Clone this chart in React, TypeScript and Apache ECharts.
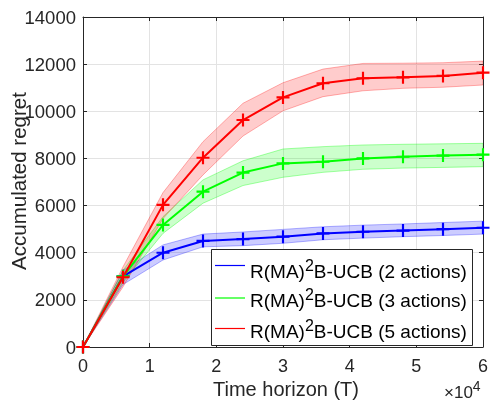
import React, { useEffect, useRef } from "react";
import * as echarts from "echarts";

const xs = [0, 6000, 12000, 18000, 24000, 30000, 36000, 42000, 48000, 54000, 60000];
const blue = [0, 3000, 4000, 4500, 4580, 4680, 4820, 4890, 4940, 5000, 5060];
const blueLo = [0, 2650, 3690, 4250, 4300, 4400, 4550, 4620, 4680, 4730, 4790];
const blueHi = [0, 3250, 4330, 4790, 4880, 4990, 5100, 5170, 5220, 5280, 5340];
const green = [0, 3000, 5180, 6590, 7400, 7790, 7860, 8000, 8070, 8120, 8160];
const greenLo = [0, 2750, 4820, 6100, 6850, 7200, 7410, 7540, 7590, 7620, 7650];
const greenHi = [0, 3250, 5530, 7090, 7900, 8400, 8500, 8570, 8600, 8620, 8640];
const red = [0, 2960, 6030, 8030, 9630, 10590, 11190, 11400, 11440, 11500, 11640];
const redLo = [0, 2550, 5450, 7300, 8950, 10020, 10620, 10870, 10975, 11020, 11115];
const redHi = [0, 3400, 6550, 8710, 10340, 11210, 11790, 12030, 12040, 12060, 12130];
const actions = ["2 actions", "3 actions", "5 actions"];
const colors = ["#0000ff", "#00ff00", "#ff0000"];
const fills = ["rgba(0,0,255,0.2)", "rgba(0,255,0,0.2)", "rgba(255,0,0,0.2)"];
const edges = ["rgba(0,0,255,0.3)", "rgba(0,255,0,0.35)", "rgba(255,0,0,0.3)"];

const FONT = "Liberation Sans, Arial, Helvetica, sans-serif";
const TXT = "#262626";
const PLUS = "path://M5,0H7V5H12V7H7V12H5V7H0V5H5Z";

export default function App() {
  const ref = useRef<HTMLDivElement>(null);
  useEffect(() => {
    const chart = echarts.init(ref.current!, null, { renderer: "svg" });
    const means = [blue, green, red];
    const los = [blueLo, greenLo, redLo];
    const his = [blueHi, greenHi, redHi];
    const seriesNames = actions.map((n) => `R(MA)2B-UCB (${n})`);
    const series: any[] = [];
    for (let i = 0; i < 3; i++) {
      const lo = los[i];
      const hi = his[i];
      series.push({
        type: "custom",
        name: "band" + i,
        silent: true,
        clip: true,
        data: xs.map((x, k) => [x, lo[k], hi[k]]),
        encode: { x: 0, y: [1, 2] },
        renderItem: (params: any, api: any) => {
          if (params.dataIndex !== 0) return null;
          const pts: number[][] = [];
          for (let k = 0; k < xs.length; k++) pts.push(api.coord([xs[k], hi[k]]));
          for (let k = xs.length - 1; k >= 0; k--) pts.push(api.coord([xs[k], lo[k]]));
          return {
            type: "polygon",
            shape: { points: pts },
            style: { fill: fills[i], stroke: edges[i], lineWidth: 1 },
          };
        },
      });
    }
    for (let i = 0; i < 3; i++) {
      series.push({
        type: "line",
        name: seriesNames[i],
        color: colors[i],
        data: xs.map((x, k) => [x, means[i][k]]),
        symbol: PLUS,
        symbolSize: 13,
        showAllSymbol: true,
        lineStyle: { color: colors[i], width: 2 },
        itemStyle: { color: colors[i] },
      });
    }

    // legend drawn as graphic (MATLAB-style box with superscript)
    const legendTop = 249.5;
    const rowLine = [265.5, 298, 328.5];
    const rowText = [271, 300.5, 331];
    const legendEls: any[] = [
      {
        type: "rect",
        z: 100,
        shape: { x: 211.5, y: legendTop, width: 261, height: 96 },
        style: { fill: "#fff", stroke: TXT, lineWidth: 1 },
      },
    ];
    for (let i = 0; i < 3; i++) {
      legendEls.push({
        type: "line",
        z: 101,
        shape: { x1: 215, y1: rowLine[i], x2: 245, y2: rowLine[i] },
        style: { stroke: colors[i], lineWidth: 1.2 },
      });
      legendEls.push({
        type: "text",
        z: 101,
        x: 250,
        y: rowText[i],
        style: {
          text: `{a|R(MA)}{s|2}{a|B-UCB (${actions[i]})}`,
          verticalAlign: "middle",
          rich: {
            a: { fontFamily: FONT, fontSize: 19, fill: "#000", lineHeight: 28 },
            s: { fontFamily: FONT, fontSize: 16, fill: "#000", lineHeight: 13, verticalAlign: "top" },
          },
        },
      });
    }

    chart.setOption({
      animation: false,
      grid: { left: 83, top: 17, width: 406, height: 330 },
      xAxis: [
        {
          type: "value",
          min: 0,
          max: 60000,
          interval: 10000,
          axisLine: { show: true, lineStyle: { color: TXT, width: 1 } },
          axisTick: { show: true, inside: true, length: 4, lineStyle: { color: TXT } },
          axisLabel: {
            formatter: (v: number) => String(v / 10000),
            fontSize: 18,
            fontFamily: FONT,
            color: TXT,
            margin: 10,
          },
          splitLine: { show: true, lineStyle: { color: "#e3e3e3", width: 1 } },
        },
        {
          type: "value",
          position: "top",
          min: 0,
          max: 60000,
          interval: 10000,
          axisLine: { show: true, onZero: false, lineStyle: { color: TXT, width: 1 } },
          axisTick: { show: true, inside: true, length: 4, lineStyle: { color: TXT } },
          axisLabel: { show: false },
          splitLine: { show: false },
        },
      ],
      yAxis: [
        {
          type: "value",
          min: 0,
          max: 14000,
          interval: 2000,
          axisLine: { show: true, lineStyle: { color: TXT, width: 1 } },
          axisTick: { show: true, inside: true, length: 4, lineStyle: { color: TXT } },
          axisLabel: {
            formatter: (v: number) => String(v),
            fontSize: 18.5,
            fontFamily: FONT,
            color: TXT,
            margin: 7,
            padding: [4, 0, 0, 0],
          },
          splitLine: { show: true, lineStyle: { color: "#e3e3e3", width: 1 } },
        },
        {
          type: "value",
          position: "right",
          min: 0,
          max: 14000,
          interval: 2000,
          axisLine: { show: true, onZero: false, lineStyle: { color: TXT, width: 1 } },
          axisTick: { show: true, inside: true, length: 4, lineStyle: { color: TXT } },
          axisLabel: { show: false },
          splitLine: { show: false },
        },
      ],
      graphic: [
        ...legendEls,
        {
          type: "text",
          x: 286,
          y: 389,
          style: {
            text: "Time horizon (T)",
            font: `20px ${FONT}`,
            fill: TXT,
            align: "center",
            verticalAlign: "middle",
          },
        },
        {
          type: "text",
          x: 18,
          y: 181,
          rotation: Math.PI / 2,
          style: {
            text: "Accumulated regret",
            font: `20.5px ${FONT}`,
            fill: TXT,
            align: "center",
            verticalAlign: "middle",
          },
        },
        {
          type: "text",
          x: 444,
          y: 392,
          style: {
            text: "{a|×10}{s|4}",
            fill: TXT,
            verticalAlign: "middle",
            rich: {
              a: { fontFamily: FONT, fontSize: 17, fill: TXT, lineHeight: 26 },
              s: { fontFamily: FONT, fontSize: 14, fill: TXT, lineHeight: 12, verticalAlign: "top" },
            },
          },
        },
      ],
      series,
    });
    return () => chart.dispose();
  }, []);
  return (
    <div
      ref={ref}
      style={{ position: "fixed", left: 0, top: 0, width: 491, height: 408 }}
    />
  );
}
